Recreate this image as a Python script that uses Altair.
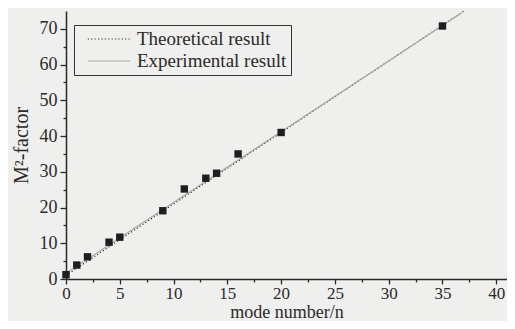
import altair as alt
import pandas as pd

# measured data points (mode number n, M^2 factor)
mode_n = [0, 1, 2, 4, 5, 9, 11, 13, 14, 16, 20, 35]
m2_meas = [1.2, 3.9, 6.2, 10.3, 11.7, 19.1, 25.2, 28.2, 29.6, 35.0, 41.0, 70.8]

# lines
series = ["Theoretical result", "Theoretical result", "Experimental result", "Experimental result"]
line_n = [0, 37, 0, 36.8]
line_m2 = [1, 75, 1.6, 74.5]

x_ticks = [0, 2.5, 5, 7.5, 10, 12.5, 15, 17.5, 20, 22.5, 25, 27.5, 30, 32.5, 35, 37.5, 40]
y_ticks = [0, 5, 10, 15, 20, 25, 30, 35, 40, 45, 50, 55, 60, 65, 70]

pts = pd.DataFrame({"n": mode_n, "m2": m2_meas})
lines = pd.DataFrame({"series": series, "n": line_n, "m2": line_m2})

FONT = "Liberation Serif"
INK = "#2a2a2a"
BG = "#efefed"

xs = alt.Scale(domain=[0, 41], nice=False, zero=False)
ys = alt.Scale(domain=[0, 75], nice=False, zero=False)

x_axis = alt.Axis(values=x_ticks, title="mode number/n", orient="bottom",
                  grid=False,
                  tickSize={"condition": {"test": "datum.value % 5 == 0", "value": 5}, "value": 3},
                  labelExpr="datum.value % 5 == 0 ? datum.label : ''",
                  labelPadding=1, labelFontSize=17,
                  titleFontSize=18, titlePadding=2, labelFlush=False, labelOverlap=False)
y_axis = alt.Axis(values=y_ticks, title="M²-factor", orient="left",
                  grid=False,
                  tickSize={"condition": {"test": "datum.value % 10 == 0", "value": 6}, "value": 3},
                  labelExpr="datum.value % 10 == 0 ? datum.label : ''",
                  labelPadding=3, labelFontSize=18,
                  titleFontSize=20, titlePadding=8, labelOverlap=False)

leg = alt.Legend(title=None, orient="none", legendX=8, legendY=14,
                 symbolType="stroke", symbolSize=1800, clipHeight=20,
                 symbolOffset=9,
                 symbolStrokeWidth=1.2, labelFontSize=19,
                 labelFont=FONT, labelColor=INK,
                 strokeColor="#333333", padding=4,
                 rowPadding=2, labelOffset=6, fillColor=BG)

line_layer = alt.Chart(lines).mark_line(strokeWidth=1.2, clip=True).encode(
    x=alt.X("n:Q", scale=xs, axis=x_axis),
    y=alt.Y("m2:Q", scale=ys, axis=y_axis),
    color=alt.Color("series:N",
                    scale=alt.Scale(domain=["Theoretical result", "Experimental result"],
                                    range=["#333333", "#a8a8a8"]),
                    legend=leg),
    strokeDash=alt.StrokeDash("series:N",
                              scale=alt.Scale(domain=["Theoretical result", "Experimental result"],
                                              range=[[1.2, 2.2], [1, 0]]),
                              legend=leg),
    detail="series:N",
)

point_layer = alt.Chart(pts).mark_point(shape="square", filled=True, size=55,
                                        color="#1e1e1e", opacity=1).encode(
    x=alt.X("n:Q", scale=xs, axis=x_axis),
    y=alt.Y("m2:Q", scale=ys, axis=y_axis),
)

chart = alt.layer(line_layer, point_layer).properties(
    width=441, height=268,
    padding={"left": 58, "top": 3, "right": 0, "bottom": 42},
    autosize=alt.AutoSizeParams(type="none"),
    background=BG,
).configure_view(stroke=None).configure_axis(
    labelFont=FONT, titleFont=FONT, labelColor=INK, titleColor=INK,
    domainColor=INK, tickColor=INK, domainWidth=1.5, tickWidth=1.3,
    titleFontWeight="normal",
)

chart.save("out.html", embed_options={"renderer": "svg", "actions": False})
